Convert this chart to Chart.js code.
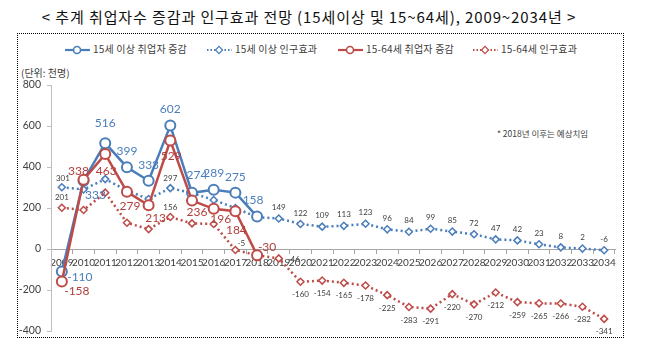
<!DOCTYPE html>
<html>
<head>
<meta charset="utf-8">
<script src="https://cdn.jsdelivr.net/npm/chart.js@4/dist/chart.umd.min.js"></script>
<style>
  body { margin: 0; background: #fff; font-family: "Noto Sans CJK KR", sans-serif; }
  #wrap { position: relative; width: 650px; height: 353px; }
  #title { position: absolute; left: 0; top: 6px; width: 618px; text-align: center; font-size: 15px; letter-spacing: 0.9px; color: #111; }
  #box { position: absolute; left: 17px; top: 33px; width: 605px; height: 303px; border: 1.5px dotted #000; }
  #legend { position: absolute; top: 41px; left: 0; font-size: 10px; color: #404040; white-space: nowrap; }
  #legend span.item { position: absolute; top: 0; letter-spacing: 0.2px; }
  #legend svg { vertical-align: middle; margin-right: 2px; }
  #unit { position: absolute; left: 21px; top: 65px; font-size: 10px; color: #404040; }
  #note { position: absolute; left: 497px; top: 127px; font-size: 8.5px; color: #404040; }
  canvas { position: absolute; left: 0; top: 0; }
</style>
</head>
<body>
<div id="wrap">
  <div id="title">&lt; 추계 취업자수 증감과 인구효과 전망 (15세이상 및 15~64세), 2009~2034년 &gt;</div>
  <div id="box"></div>
  <div id="legend"></div>
  <div id="unit">(단위: 천명)</div>
  <div id="note">* 2018년 이후는 예상치임</div>
  <canvas id="chart" width="650" height="353"></canvas>
</div>
<script>
const years = ['2009', '2010', '2011', '2012', '2013', '2014', '2015', '2016', '2017', '2018', '2019', '2020', '2021',
  '2022', '2023', '2024', '2025', '2026', '2027', '2028', '2029', '2030', '2031', '2032', '2033', '2034'];

// 15세 이상 취업자 증감 (2009~2018 실적)
const emp15 = [-110, 333, 516, 399, 333, 602, 274, 289, 275, 158,
  null, null, null, null, null, null, null, null, null, null, null, null, null, null, null, null];
// 15세 이상 인구효과
const pop15 = [301, 290, 341, 285, 244, 297, 273, 239, 200, 155, 149, 122, 109,
  113, 123, 96, 84, 99, 85, 72, 47, 42, 23, 8, 2, -6];
// 15-64세 취업자 증감
const emp1564 = [-158, 338, 463, 279, 213, 529, 236, 196, 184, -30,
  null, null, null, null, null, null, null, null, null, null, null, null, null, null, null, null];
// 15-64세 인구효과
const pop1564 = [201, 190, 275, 128, 97, 156, 125, 122, -5, -30, -46, -160, -154,
  -165, -178, -225, -283, -291, -220, -270, -212, -259, -265, -266, -282, -341];

const yTicks = [800, 600, 400, 200, 0, -200, -400];

const seriesNames = ['15세 이상 취업자 증감', '15세 이상 인구효과', '15-64세 취업자 증감', '15-64세 인구효과'];

const BLUE = '#4a7ebb';
const RED = '#be4b48';

// label placement (dx, dy from point), null = no label
const up = [0, -11];
const down = [0, 13];
const labelOffsets = [
  [[18, 6], [12, 14], [0, -20], [0, -16], [0, -16], [0, -16], [5, -18], [0, -17], [0, -16], [-4, -16]],
  [[1, -9], null, null, null, null, [0, -10], null, null, null, null, up, up, up, up, up, up, up, up, up, up, up, up, up, up, up, up],
  [[15, 10], [-5, -9], [1, 17], [3, 14], [7, 13], [1, 16], [5, 12], [7, 10], [1, 19], [10, -8]],
  [[0, -10], null, null, null, null, [0, -10], null, null, [6, -7], null, [15, 1], down, down, down, down, down, down, down, down, down, down, down, down, down, down, down]
];
const labelStyles = [
  { color: BLUE, font: '12px Lato' },
  { color: '#404040', font: '8px Lato' },
  { color: '#b0403d', font: '12px Lato' },
  { color: '#404040', font: '8px Lato' }
];

const valueLabels = {
  id: 'valueLabels',
  afterDatasetsDraw(chart) {
    const ctx = chart.ctx;
    ctx.save();
    ctx.textAlign = 'center';
    ctx.textBaseline = 'middle';
    chart.data.datasets.forEach((ds, di) => {
      const meta = chart.getDatasetMeta(di);
      ctx.fillStyle = labelStyles[di].color;
      ctx.font = labelStyles[di].font;
      meta.data.forEach((pt, i) => {
        const off = labelOffsets[di][i];
        const v = ds.data[i];
        if (!off || v === null) return;
        ctx.fillText(String(v), pt.x + off[0], pt.y + off[1]);
      });
    });
    ctx.restore();
  }
};

// legend
const legendEl = document.getElementById('legend');
const legendMarks = [
  { color: BLUE, dash: '', shape: 'circle', left: 64 },
  { color: BLUE, dash: '1.5 2', shape: 'diamond', left: 206 },
  { color: RED, dash: '', shape: 'circle', left: 337 },
  { color: RED, dash: '1.5 2', shape: 'diamond', left: 472 }
];
legendMarks.forEach((m, i) => {
  const mark = m.shape === 'circle'
    ? `<circle cx="13" cy="5" r="3.5" fill="#fff" stroke="${m.color}" stroke-width="1.6"/>`
    : `<rect x="10.5" y="2.5" width="5" height="5" fill="#fff" stroke="${m.color}" stroke-width="1.2" transform="rotate(45 13 5)"/>`;
  legendEl.innerHTML += `<span class="item" style="left:${m.left}px"><svg width="27" height="10"><line x1="1" y1="5" x2="26" y2="5" stroke="${m.color}" stroke-width="2.2" stroke-dasharray="${m.dash}"/>${mark}</svg>${seriesNames[i]}</span>`;
});

const ctx = document.getElementById('chart').getContext('2d');
new Chart(ctx, {
  type: 'line',
  data: {
    labels: years,
    datasets: [
      {
        label: seriesNames[0],
        data: emp15,
        borderColor: BLUE,
        borderWidth: 2.5,
        pointRadius: 5,
        pointBorderWidth: 2,
        pointBackgroundColor: '#fff',
        pointBorderColor: BLUE,
        order: 2
      },
      {
        label: seriesNames[1],
        data: pop15,
        borderColor: BLUE,
        borderWidth: 2.5,
        borderDash: [2, 3],
        pointStyle: 'rectRot',
        pointRadius: 3.5,
        pointBorderWidth: 1.5,
        pointBackgroundColor: '#fff',
        pointBorderColor: BLUE,
        order: 3
      },
      {
        label: seriesNames[2],
        data: emp1564,
        borderColor: RED,
        borderWidth: 2.5,
        pointRadius: 5,
        pointBorderWidth: 2,
        pointBackgroundColor: '#fff',
        pointBorderColor: RED,
        order: 1
      },
      {
        label: seriesNames[3],
        data: pop1564,
        borderColor: RED,
        borderWidth: 2.5,
        borderDash: [2, 3],
        pointStyle: 'rectRot',
        pointRadius: 3.5,
        pointBorderWidth: 1.5,
        pointBackgroundColor: '#fff',
        pointBorderColor: RED,
        order: 4
      }
    ]
  },
  options: {
    responsive: false,
    animation: false,
    layout: {
      padding: { top: 85, bottom: 22, left: 0, right: 35 }
    },
    scales: {
      x: {
        position: { y: 0 },
        offset: true,
        grid: {
          offset: true,
          drawOnChartArea: false,
          color: '#a6a6a6',
          tickLength: 4
        },
        border: { color: '#a6a6a6' },
        ticks: {
          autoSkip: false,
          maxRotation: 0,
          minRotation: 0,
          padding: 4,
          color: '#404040',
          font: { family: 'Lato', size: 10 }
        }
      },
      y: {
        min: -400,
        max: 800,
        afterFit(scale) { scale.width = 51; },
        afterBuildTicks(scale) { scale.ticks = yTicks.map(v => ({ value: v })); },
        grid: {
          drawOnChartArea: false,
          color: '#bfbfbf',
          tickLength: 4
        },
        border: { color: '#bfbfbf' },
        ticks: {
          padding: 6,
          color: '#404040',
          font: { family: 'Lato', size: 10.5 }
        }
      }
    },
    plugins: {
      legend: { display: false },
      tooltip: { enabled: false }
    }
  },
  plugins: [valueLabels]
});
</script>
</body>
</html>
